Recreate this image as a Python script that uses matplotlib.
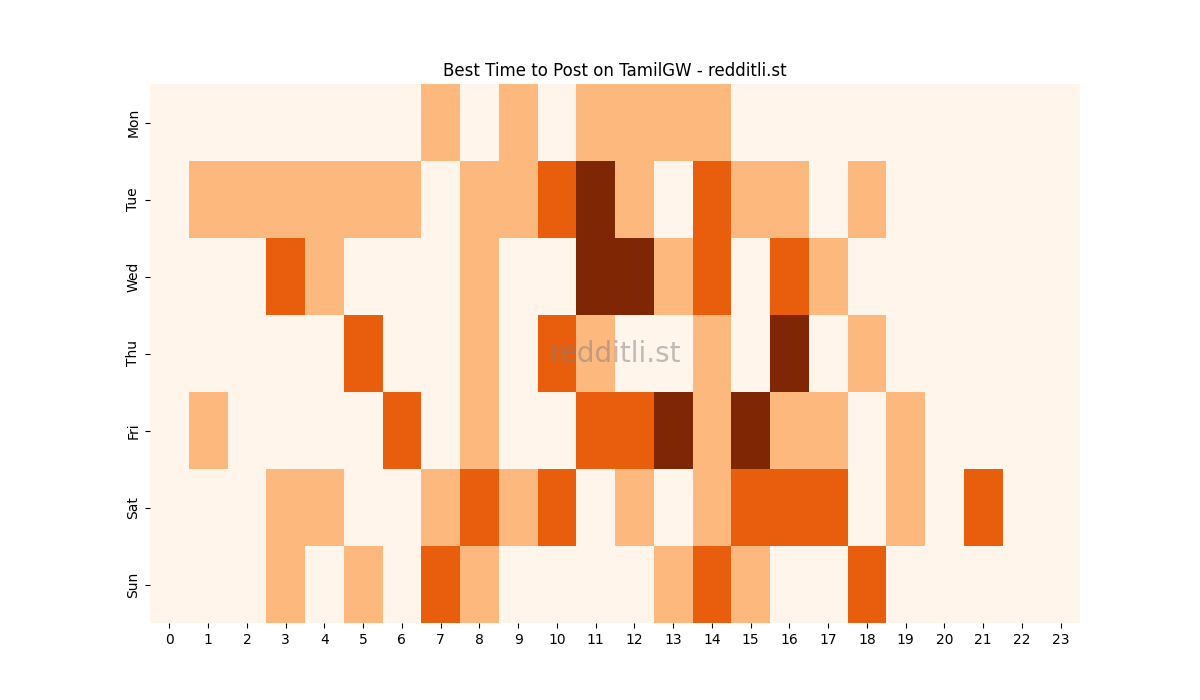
import numpy as np
import matplotlib
matplotlib.use("Agg")
import matplotlib.pyplot as plt
import seaborn as sns

# activity level per day (rows) and hour (columns), 0..3
days = ["Mon", "Tue", "Wed", "Thu", "Fri", "Sat", "Sun"]
hours = list(range(24))

mon = [0, 0, 0, 0, 0, 0, 0, 1, 0, 1, 0, 1, 1, 1, 1, 0, 0, 0, 0, 0, 0, 0, 0, 0]
tue = [0, 1, 1, 1, 1, 1, 1, 0, 1, 1, 2, 3, 1, 0, 2, 1, 1, 0, 1, 0, 0, 0, 0, 0]
wed = [0, 0, 0, 2, 1, 0, 0, 0, 1, 0, 0, 3, 3, 1, 2, 0, 2, 1, 0, 0, 0, 0, 0, 0]
thu = [0, 0, 0, 0, 0, 2, 0, 0, 1, 0, 2, 1, 0, 0, 1, 0, 3, 0, 1, 0, 0, 0, 0, 0]
fri = [0, 1, 0, 0, 0, 0, 2, 0, 1, 0, 0, 2, 2, 3, 1, 3, 1, 1, 0, 1, 0, 0, 0, 0]
sat = [0, 0, 0, 1, 1, 0, 0, 1, 2, 1, 2, 0, 1, 0, 1, 2, 2, 2, 0, 1, 0, 2, 0, 0]
sun = [0, 0, 0, 1, 0, 1, 0, 2, 1, 0, 0, 0, 0, 1, 2, 1, 0, 0, 2, 0, 0, 0, 0, 0]

grid = np.array([mon, tue, wed, thu, fri, sat, sun])

fig = plt.figure(figsize=(12, 7), dpi=100)
ax = fig.add_subplot(111)
sns.heatmap(grid, cmap="Oranges", vmin=0, vmax=3, cbar=False,
            xticklabels=hours, yticklabels=days, ax=ax)
ax.set_title("Best Time to Post on TamilGW - redditli.st")

# watermark
ax.text(0.5, 0.5, "redditli.st", transform=ax.transAxes, fontsize=20,
        color="gray", alpha=0.5, ha="center", va="center")

fig.savefig("out.png")
